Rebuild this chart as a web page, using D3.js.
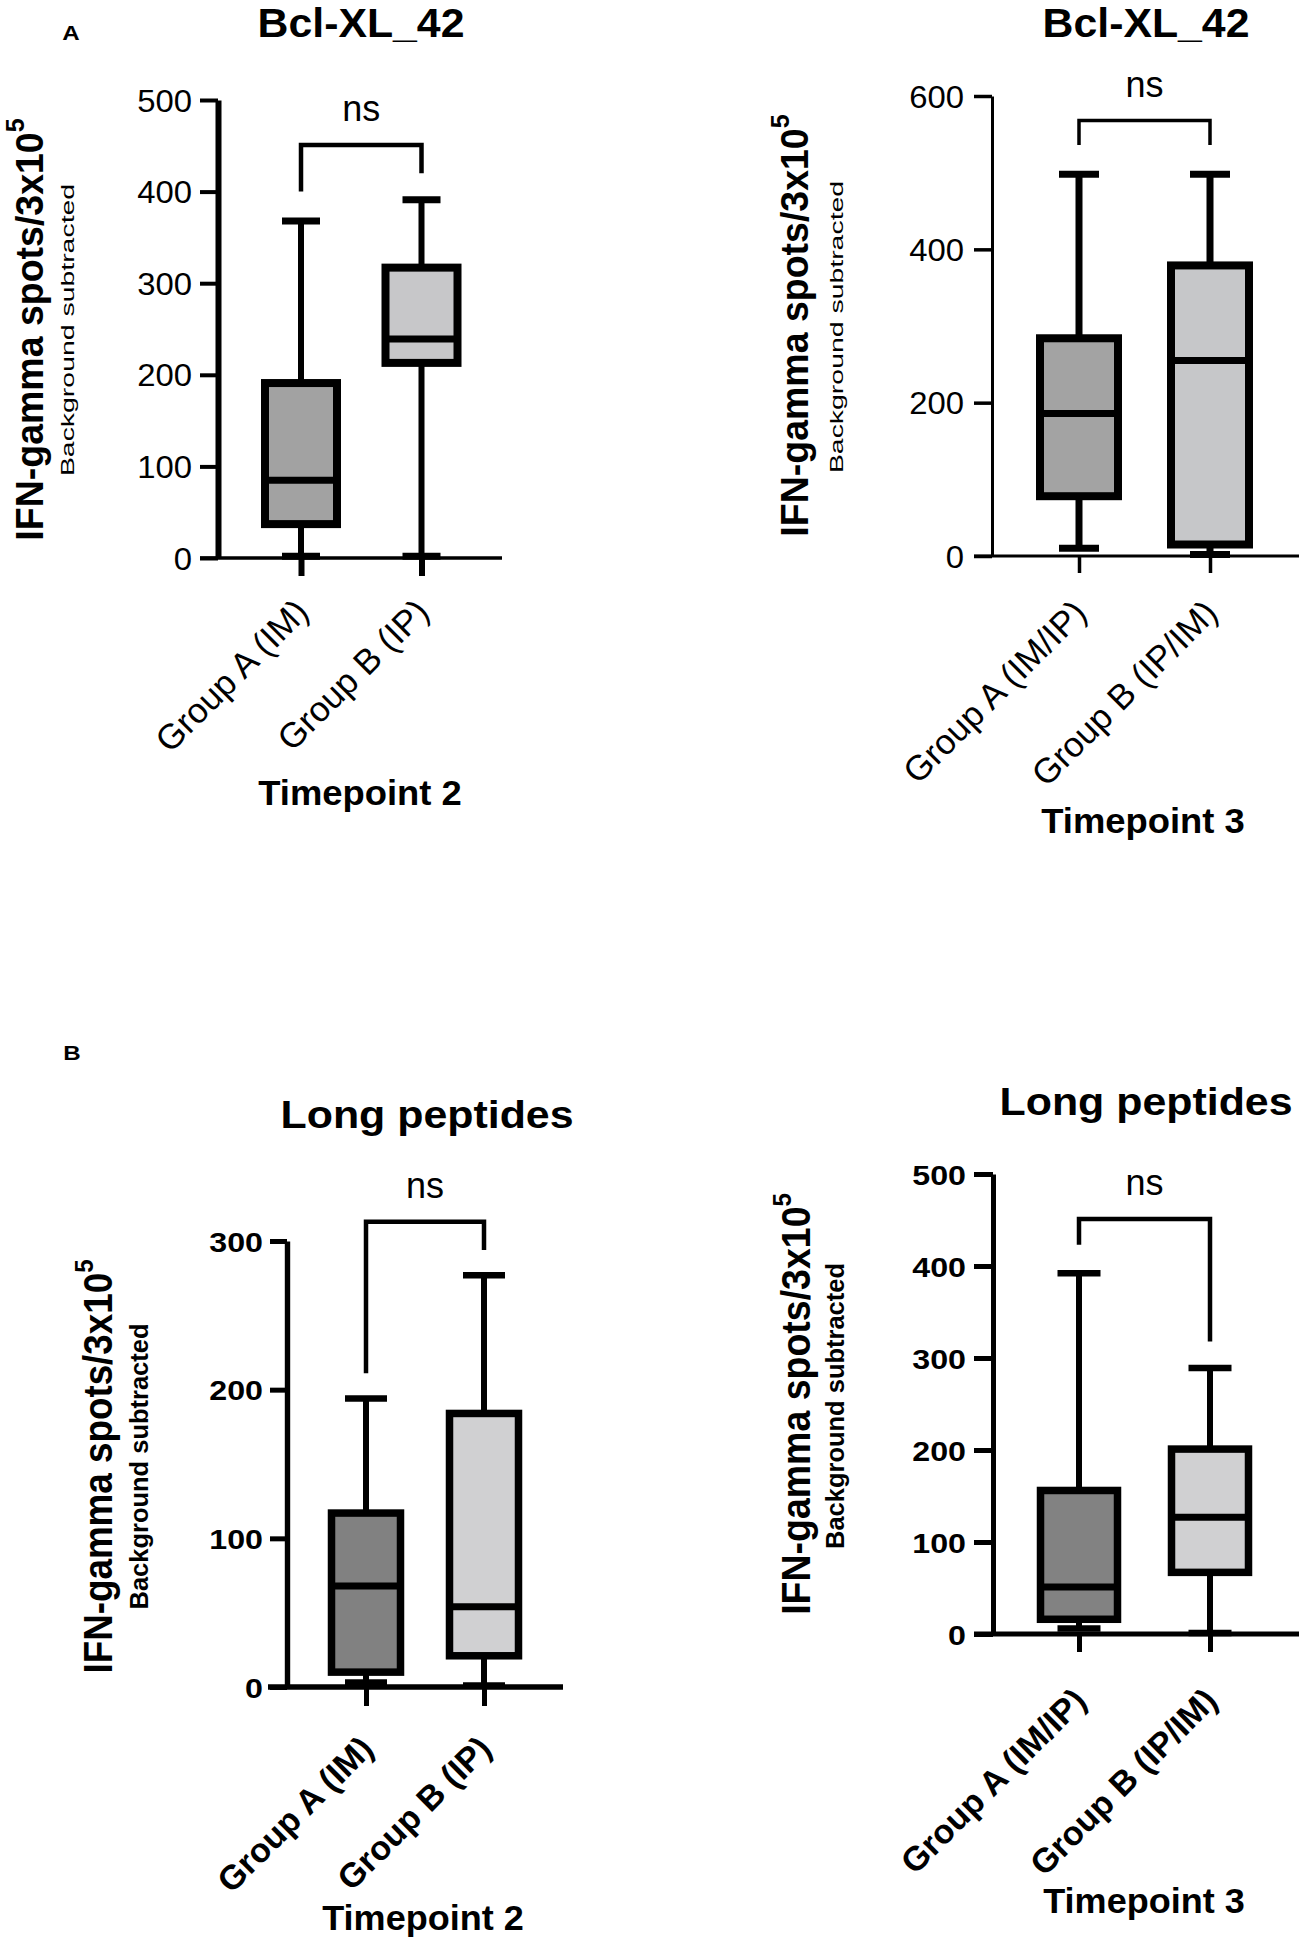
<!DOCTYPE html>
<html><head><meta charset="utf-8">
<script src="https://cdn.jsdelivr.net/npm/d3@7"></script>
<style>html,body{margin:0;padding:0;background:#fff}</style>
</head><body>
<svg id="chart" width="1299" height="1938"></svg>
<script>
// ---------------- DATA ----------------
const panelLetters = ["A", "B"];
const titles = ["Bcl-XL_42", "Bcl-XL_42", "Long peptides", "Long peptides"];
const timepoints = ["Timepoint 2", "Timepoint 3", "Timepoint 2", "Timepoint 3"];
const groupsTP2 = ["Group A (IM)", "Group B (IP)"];
const groupsTP3 = ["Group A (IM/IP)", "Group B (IP/IM)"];
const yTitleMain = "IFN-gamma spots/3x10";
const yTitleSup = "5";
const yTitleSub = "Background subtracted";
const sigLabel = "ns";

const ticksBclT2 = [0, 100, 200, 300, 400, 500];
const ticksBclT3 = [0, 200, 400, 600];
const ticksLpT2 = [0, 100, 200, 300];
const ticksLpT3 = [0, 100, 200, 300, 400, 500];

// five-number summaries: [min, q1, median, q3, max]
const bclT2_A = [2, 37, 85, 191, 368];
const bclT2_B = [2, 213, 239, 317, 391];
const bclT3_A = [10, 78, 186, 284, 498];
const bclT3_B = [2, 15, 255, 379, 498];
const lpT2_A = [3, 10, 68, 117, 194];
const lpT2_B = [1, 21, 54, 184, 277];
const lpT3_A = [6, 16, 51, 156, 392];
const lpT3_B = [1, 67, 127, 201, 289];

// significance brackets: [top, left leg end, right leg end] (data units)
const bclT2_bracket = [451, 400, 420];
const bclT3_bracket = [568, 536, 536];
const lpT2_bracket = [313, 211, 294];
const lpT3_bracket = [451, 423, 318];

// ---------------- LAYOUT / STYLE ----------------
const FONT = "'Liberation Sans', Arial, Helvetica, sans-serif";
const layouts = [
  { yAxisX: 218, y0: 558, yTop: 100, centers: [301, 421.5], xStart: 200, xEnd: 502,
    yAxisW: 6, xAxisW: 3.3, tickLen: 18, tickPad: 8, tickW: 4, tickF: 31, tickWeight: "normal", tickSx: 1.06,
    xTickLen: 18, xTickW: 6, boxW: 72, boxS: 8, medW: 7, whW: 6, capW: 38,
    dark: "#a2a2a2", light: "#c7c7c9", labelOff: 47, labelF: 35, labelWeight: "normal",
    tpX: 360, tpY: 805, tpF: 35, tpSx: 1.04,
    titleX: 361, titleY: 37, titleF: 40, titleWeight: "bold", titleSx: 1.07,
    nsF: 36, brW: 4.5,
    ytX: 42.5, ytY: 329.5, ytF: 37.5, ytB: 1.05, supF: 25, supShift: 18,
    bgX: 74, bgY: 330, bgF: 18, bgA: 1.58, bgWeight: "normal" },
  { yAxisX: 992, y0: 556, yTop: 96, centers: [1079, 1210], xStart: 974, xEnd: 1299,
    yAxisW: 3, xAxisW: 3, tickLen: 18, tickPad: 10, tickW: 3.5, tickF: 31, tickWeight: "normal", tickSx: 1.06,
    xTickLen: 17, xTickW: 3.5, boxW: 78, boxS: 8, medW: 7, whW: 7, capW: 40,
    dark: "#a3a3a3", light: "#c6c7c9", labelOff: 50, labelF: 35, labelWeight: "normal",
    tpX: 1143, tpY: 833, tpF: 35, tpSx: 1.04,
    titleX: 1146, titleY: 37, titleF: 40, titleWeight: "bold", titleSx: 1.07,
    nsF: 36, brW: 3.5,
    ytX: 808, ytY: 325.5, ytF: 37.5, ytB: 1.05, supF: 25, supShift: 18,
    bgX: 843, bgY: 327, bgF: 18, bgA: 1.58, bgWeight: "normal" },
  { yAxisX: 287, y0: 1687, yTop: 1241, centers: [366, 484], xStart: 268, xEnd: 563,
    yAxisW: 5.4, xAxisW: 5.4, tickLen: 17, tickPad: 7, tickW: 5, tickF: 28, tickWeight: "bold", tickSx: 1.15,
    xTickLen: 19, xTickW: 5, boxW: 69, boxS: 7.5, medW: 7, whW: 6, capW: 42,
    dark: "#818181", light: "#d0d0d2", labelOff: 55, labelF: 34, labelWeight: "bold",
    tpX: 423, tpY: 1930, tpF: 35, tpSx: 1.03,
    titleX: 427, titleY: 1128, titleF: 39, titleWeight: "bold", titleSx: 1.1,
    nsF: 36, brW: 4.5,
    ytX: 112, ytY: 1466.5, ytF: 36.8, ytB: 1.1, supF: 24, supShift: 17,
    bgX: 148, bgY: 1466.5, bgF: 26, bgA: 0.98, bgWeight: "bold" },
  { yAxisX: 993, y0: 1634, yTop: 1174, centers: [1079, 1210], xStart: 974, xEnd: 1299,
    yAxisW: 5, xAxisW: 5, tickLen: 19, tickPad: 8, tickW: 5, tickF: 28, tickWeight: "bold", tickSx: 1.15,
    xTickLen: 18, xTickW: 5, boxW: 77, boxS: 7.5, medW: 7, whW: 6, capW: 43,
    dark: "#828282", light: "#d0d0d2", labelOff: 60, labelF: 34, labelWeight: "bold",
    tpX: 1144, tpY: 1913, tpF: 35, tpSx: 1.03,
    titleX: 1146, titleY: 1114.6, titleF: 39, titleWeight: "bold", titleSx: 1.1,
    nsF: 36, brW: 4.5,
    ytX: 810, ytY: 1404, ytF: 37.5, ytB: 1.1, supF: 24, supShift: 17,
    bgX: 844, bgY: 1406, bgF: 26, bgA: 0.98, bgWeight: "bold" }
];

const panels = [
  { groups: groupsTP2, ticks: ticksBclT2, series: [bclT2_A, bclT2_B], bracket: bclT2_bracket },
  { groups: groupsTP3, ticks: ticksBclT3, series: [bclT3_A, bclT3_B], bracket: bclT3_bracket },
  { groups: groupsTP2, ticks: ticksLpT2, series: [lpT2_A, lpT2_B], bracket: lpT2_bracket },
  { groups: groupsTP3, ticks: ticksLpT3, series: [lpT3_A, lpT3_B], bracket: lpT3_bracket }
];

// ---------------- DRAW ----------------
const svg = d3.select("#chart");
svg.append("rect").attr("width", 1299).attr("height", 1938).attr("fill", "#fff");

function txt(parent, o) {
  const t = parent.append("text")
    .attr("transform", `translate(${o.x},${o.y}) rotate(${o.rot || 0}) scale(${o.a || 1},${o.b || 1})`)
    .attr("text-anchor", o.anchor || "middle")
    .attr("font-family", FONT)
    .attr("font-size", o.size)
    .attr("font-weight", o.weight || "normal")
    .attr("fill", "#000");
  if (o.text !== undefined) t.text(o.text);
  return t;
}

// panel letters
txt(svg, { x: 71, y: 40, text: panelLetters[0], size: 21, weight: "bold", a: 1.15 });
txt(svg, { x: 72, y: 1060, text: panelLetters[1], size: 21, weight: "bold", a: 1.15 });

panels.forEach((p, i) => {
  const L = layouts[i];
  const g = svg.append("g");
  const y = d3.scaleLinear().domain([0, d3.max(p.ticks)]).range([L.y0, L.yTop]);
  const x = d3.scalePoint().domain(p.groups).range(L.centers);

  // y axis
  const ya = g.append("g").attr("transform", `translate(${L.yAxisX},0)`)
    .call(d3.axisLeft(y).tickValues(p.ticks).tickSize(L.tickLen).tickSizeOuter(0).tickPadding(L.tickPad));
  ya.select(".domain").attr("stroke", "#000").attr("stroke-width", L.yAxisW);
  ya.selectAll(".tick line").attr("stroke", "#000").attr("stroke-width", L.tickW);
  ya.selectAll(".tick text")
    .attr("x", null).attr("dy", "0.36em")
    .attr("transform", `translate(${-(L.tickLen + L.tickPad)},0) scale(${L.tickSx},1)`)
    .attr("font-family", FONT).attr("font-size", L.tickF).attr("font-weight", L.tickWeight)
    .attr("fill", "#000").attr("text-anchor", "end");

  // x axis line
  g.append("line").attr("x1", L.xStart).attr("x2", L.xEnd).attr("y1", y(0)).attr("y2", y(0))
    .attr("stroke", "#000").attr("stroke-width", L.xAxisW);
  const xa = g.append("g").attr("transform", `translate(0,${y(0)})`)
    .call(d3.axisBottom(x).tickSize(L.xTickLen).tickSizeOuter(0));
  xa.select(".domain").remove();
  xa.selectAll(".tick line").attr("stroke", "#000").attr("stroke-width", L.xTickW);
  xa.selectAll(".tick text")
    .attr("y", null).attr("dy", "0.36em")
    .attr("transform", `translate(0,${L.labelOff}) rotate(-45)`)
    .attr("text-anchor", "end")
    .attr("font-family", FONT).attr("font-size", L.labelF).attr("font-weight", L.labelWeight)
    .attr("fill", "#000");

  // boxes
  p.series.forEach((s, j) => {
    const cx = x(p.groups[j]);
    const fill = j === 0 ? L.dark : L.light;
    g.append("line").attr("x1", cx).attr("x2", cx).attr("y1", y(s[0])).attr("y2", y(s[4]))
      .attr("stroke", "#000").attr("stroke-width", L.whW);
    [s[0], s[4]].forEach(v => {
      g.append("line").attr("x1", cx - L.capW / 2).attr("x2", cx + L.capW / 2)
        .attr("y1", y(v)).attr("y2", y(v)).attr("stroke", "#000").attr("stroke-width", L.boxS - 1);
    });
    g.append("rect").attr("x", cx - L.boxW / 2).attr("y", y(s[3]))
      .attr("width", L.boxW).attr("height", y(s[1]) - y(s[3]))
      .attr("fill", fill).attr("stroke", "#000").attr("stroke-width", L.boxS);
    g.append("line").attr("x1", cx - L.boxW / 2).attr("x2", cx + L.boxW / 2)
      .attr("y1", y(s[2])).attr("y2", y(s[2])).attr("stroke", "#000").attr("stroke-width", L.medW);
  });

  // bracket
  const xl = x(p.groups[0]), xr = x(p.groups[1]);
  const b = p.bracket;
  g.append("path")
    .attr("d", `M${xl},${y(b[1])}V${y(b[0])}H${xr}V${y(b[2])}`)
    .attr("fill", "none").attr("stroke", "#000").attr("stroke-width", L.brW);
  txt(g, { x: (xl + xr) / 2, y: y(b[0]) - 24, text: sigLabel, size: L.nsF });

  // titles
  txt(g, { x: L.titleX, y: L.titleY, text: titles[i], size: L.titleF, weight: L.titleWeight, a: L.titleSx });
  txt(g, { x: L.tpX, y: L.tpY, text: timepoints[i], size: L.tpF, weight: "bold", a: L.tpSx });

  // y titles
  const yt = txt(g, { x: L.ytX, y: L.ytY, rot: -90, b: L.ytB, size: L.ytF, weight: "bold" });
  yt.append("tspan").text(yTitleMain);
  yt.append("tspan").attr("font-size", L.supF).attr("dy", -L.supShift).text(yTitleSup);
  txt(g, { x: L.bgX, y: L.bgY, rot: -90, a: L.bgA, size: L.bgF, weight: L.bgWeight, text: yTitleSub });
});
</script>
</body></html>
